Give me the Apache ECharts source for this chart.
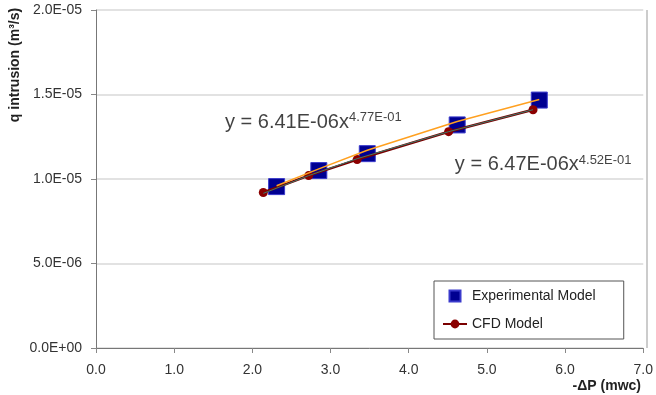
<!DOCTYPE html>
<html>
<head>
<meta charset="utf-8">
<script src="https://cdn.jsdelivr.net/npm/echarts@6/dist/echarts.min.js"></script>
<style>
html, body { margin: 0; padding: 0; background: #fff; }
#main { width: 656px; height: 395px; }
</style>
</head>
<body>
<div id="main"></div>
<script>
var expX = [2.31, 2.85, 3.47, 4.62, 5.67];
var expY = [9.55e-6, 1.05e-5, 1.15e-5, 1.32e-5, 1.467e-5];
var cfdX = [2.14, 2.72, 3.34, 4.51, 5.59];
var cfdY = [9.2e-6, 1.02e-5, 1.115e-5, 1.28e-5, 1.41e-5];
// trendlines as drawn
var expTrendX = [2.31, 2.85, 3.47, 4.62, 5.67];
var expTrendY = [9.6e-6, 1.06e-5, 1.17e-5, 1.34e-5, 1.47e-5];
var cfdTrendX = [2.14, 2.72, 3.34, 4.51, 5.59];
var cfdTrendY = [9.15e-6, 1.02e-5, 1.12e-5, 1.28e-5, 1.41e-5];
// equation text and where it sits (data units)
var expLabel = ['y = 6.41E-06x', '4.77E-01'];
var expLabelAt = [2.78, 1.337e-5];
var cfdLabel = ['y = 6.47E-06x', '4.52E-01'];
var cfdLabelAt = [5.72, 1.083e-5];

function pairs(xs, ys) {
	var out = [];
	xs.forEach(function (x, i) { out.push([x, ys[i]]); });
	return out;
}

function sciLabel(v) {
	var s = Number(v).toExponential(1).split('e');
	var e = parseInt(s[1], 10);
	var sign = e < 0 ? '-' : '+';
	var a = Math.abs(e);
	return s[0] + 'E' + sign + (a < 10 ? '0' + a : a);
}

var chart = echarts.init(document.getElementById('main'));
var font = 'Liberation Sans, Arial, sans-serif';

var eqRich = {
	b: { fontSize: 20, color: '#111', fontFamily: font },
	s: { fontSize: 13, color: '#111', fontFamily: font, verticalAlign: 'top', padding: [0, 0, 9, 0] }
};

function equation(name, at, parts) {
	return {
		name: name, type: 'scatter', symbolSize: 1, silent: true,
		itemStyle: { color: 'rgba(0,0,0,0)' },
		data: [at], z: 5,
		label: {
			show: true, position: 'inside',
			formatter: '{b|' + parts[0] + '}{s|' + parts[1] + '}',
			rich: eqRich
		}
	};
}

chart.setOption({
	animation: false,
	textStyle: { fontFamily: font },
	grid: { left: 96, right: 9, top: 10, bottom: 47, show: true, borderWidth: 0 },
	xAxis: {
		type: 'value', min: 0, max: 7, interval: 1,
		axisLine: { show: true, lineStyle: { color: '#777', width: 1 } },
		axisTick: { show: true, length: 5, lineStyle: { color: '#888' } },
		axisLabel: { color: '#333', fontSize: 14, margin: 15, formatter: function (v) { return v.toFixed(1); } },
		splitLine: { show: false }
	},
	yAxis: {
		type: 'value', min: 0, max: 2e-5, interval: 5e-6,
		axisLine: { show: true, lineStyle: { color: '#777', width: 1 } },
		axisTick: { show: true, length: 5, lineStyle: { color: '#888' } },
		axisLabel: { color: '#333', fontSize: 14, margin: 14, formatter: sciLabel },
		splitLine: { show: true, lineStyle: { color: '#d9d9d9', width: 1.5 } }
	},
	legend: {
		data: [
			{ name: 'Experimental Model', icon: 'path://M0,0L10,0L10,10L0,10Z' },
			{ name: 'CFD Model' }
		],
		orient: 'vertical',
		left: 434, top: 281,
		padding: [8, 28, 8, 8],
		itemGap: 14,
		itemWidth: 24, itemHeight: 11,
		symbolKeepAspect: true,
		backgroundColor: '#fff',
		borderColor: '#555', borderWidth: 1,
		textStyle: { fontSize: 14, color: '#222' }
	},
	series: [
		{
			name: 'Experimental Model', type: 'scatter',
			symbol: 'rect', symbolSize: 16,
			itemStyle: { color: '#000091', borderColor: '#3a3acc', borderWidth: 1, opacity: 1 },
			data: pairs(expX, expY), z: 2
		},
		{
			name: 'CFD Model', type: 'line',
			symbol: 'circle', symbolSize: 9,
			lineStyle: { color: '#7a0000', width: 2.5 },
			itemStyle: { color: '#8b0000' },
			data: pairs(cfdX, cfdY), z: 3
		},
		{
			name: 'exp trend', type: 'line', symbol: 'none',
			lineStyle: { color: '#ffa020', width: 1.5 },
			data: pairs(expTrendX, expTrendY), z: 4, silent: true
		},
		{
			name: 'cfd trend', type: 'line', symbol: 'none',
			lineStyle: { color: '#3a7a6a', width: 1 },
			data: pairs(cfdTrendX, cfdTrendY), z: 4, silent: true
		},
		equation('exp eq', expLabelAt, expLabel),
		equation('cfd eq', cfdLabelAt, cfdLabel)
	],
	graphic: [
		{
			type: 'line', silent: true,
			shape: { x1: 647, y1: 10, x2: 647, y2: 348 },
			style: { stroke: '#bbb', lineWidth: 1.5 }
		},
		{
			type: 'text', x: 15, y: 65, rotation: Math.PI / 2,
			style: {
				text: 'q intrusion (m³/s)', font: 'bold 14px ' + font,
				fill: '#222', align: 'center', verticalAlign: 'middle'
			}
		},
		{
			type: 'text', x: 641, y: 386,
			style: {
				text: '-ΔP (mwc)', font: 'bold 14px ' + font,
				fill: '#222', align: 'right', verticalAlign: 'middle'
			}
		}
	]
});
</script>
</body>
</html>
